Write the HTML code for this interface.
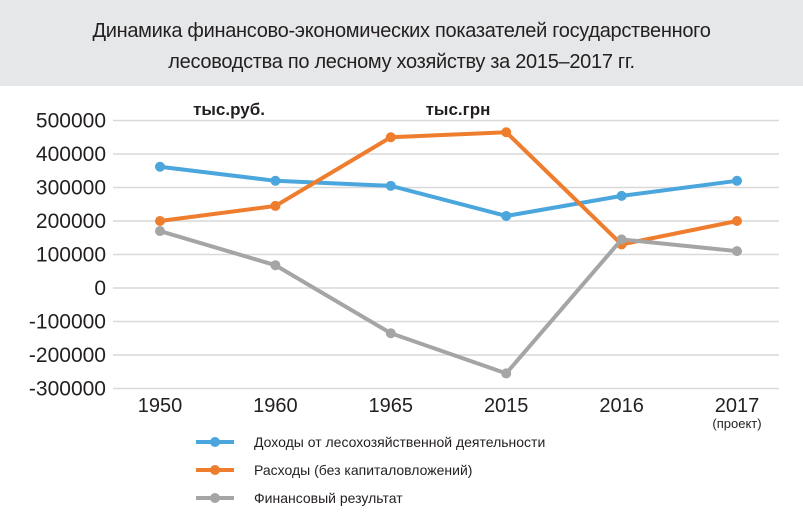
<!DOCTYPE html>
<html><head><meta charset="utf-8"><style>
body{margin:0;width:803px;height:531px;background:#fff;font-family:"Liberation Sans",sans-serif;overflow:hidden}
#hdr{position:absolute;left:0;top:0;width:803px;height:86px;background:#e6e7e8}
#hdr div{position:absolute;width:803px;text-align:center;font-size:20px;color:#231f20;letter-spacing:-0.3px}
</style></head><body>
<div id="hdr">
<div style="top:20px">Динамика финансово-экономических показателей государственного</div>
<div style="top:51px">лесоводства по лесному хозяйству за 2015–2017 гг.</div>
</div>
<svg id="c" width="803" height="531" style="position:absolute;left:0;top:0"></svg>
<script>
const categories=["1950","1960","1965","2015","2016","2017"];
const incomeValues=[362000,320000,305000,215000,275000,320000];
const expenseValues=[200000,245000,450000,465000,130000,200000];
const resultValues=[170000,68000,-135000,-255000,145000,110000];
const yTicks=[500000,400000,300000,200000,100000,0,-100000,-200000,-300000];
const seriesNames=["Доходы от лесохозяйственной деятельности","Расходы (без капиталовложений)","Финансовый результат"];
const colors=["#4aa6dc","#ee7d2e","#a5a5a5"];
const svg=document.getElementById('c');const NS="http://www.w3.org/2000/svg";
function y(v){return 288-v*33.5/100000;}
function x(i){return 160+i*115.4;}
function mk(t,a,p){const e=document.createElementNS(NS,t);for(const k in a)e.setAttribute(k,a[k]);(p||svg).appendChild(e);return e;}
yTicks.forEach(v=>{
const g=mk('line',{x1:113,x2:779,y1:y(v),y2:y(v),stroke:'#d9d9d9','stroke-width':1.5});


const t=mk('text',{x:106,y:y(v)+7,'text-anchor':'end','font-size':21,fill:'#231f20'});t.textContent=v;


});
categories.forEach((c,i)=>{
const t=mk('text',{x:x(i),y:412,'text-anchor':'middle','font-size':20,fill:'#231f20'});t.textContent=c;


});
const pr=mk('text',{x:737,y:428,'text-anchor':'middle','font-size':13,fill:'#231f20'});pr.textContent="(проект)";


[["тыс.руб.",229],["тыс.грн",458]].forEach(([s,px])=>{const t=mk('text',{x:px,y:115,'text-anchor':'middle','font-size':17,'font-weight':'bold',fill:'#231f20'});t.textContent=s;

});
[incomeValues,expenseValues,resultValues].forEach((vals,s)=>{
const l=mk('polyline',{points:vals.map((v,i)=>x(i)+','+y(v)).join(' '),fill:'none',stroke:colors[s],'stroke-width':4});


vals.forEach((v,i)=>{const p=mk('circle',{cx:x(i),cy:y(v),r:5,fill:colors[s]});

});
const ly=442+s*28;
const ll=mk('line',{x1:196,x2:234,y1:ly,y2:ly,stroke:colors[s],'stroke-width':4});


const lc=mk('circle',{cx:215,cy:ly,r:5,fill:colors[s]});


const lt=mk('text',{x:254,y:ly+5,'font-size':14,fill:'#231f20'});lt.textContent=seriesNames[s];


});
</script>
</body></html>
